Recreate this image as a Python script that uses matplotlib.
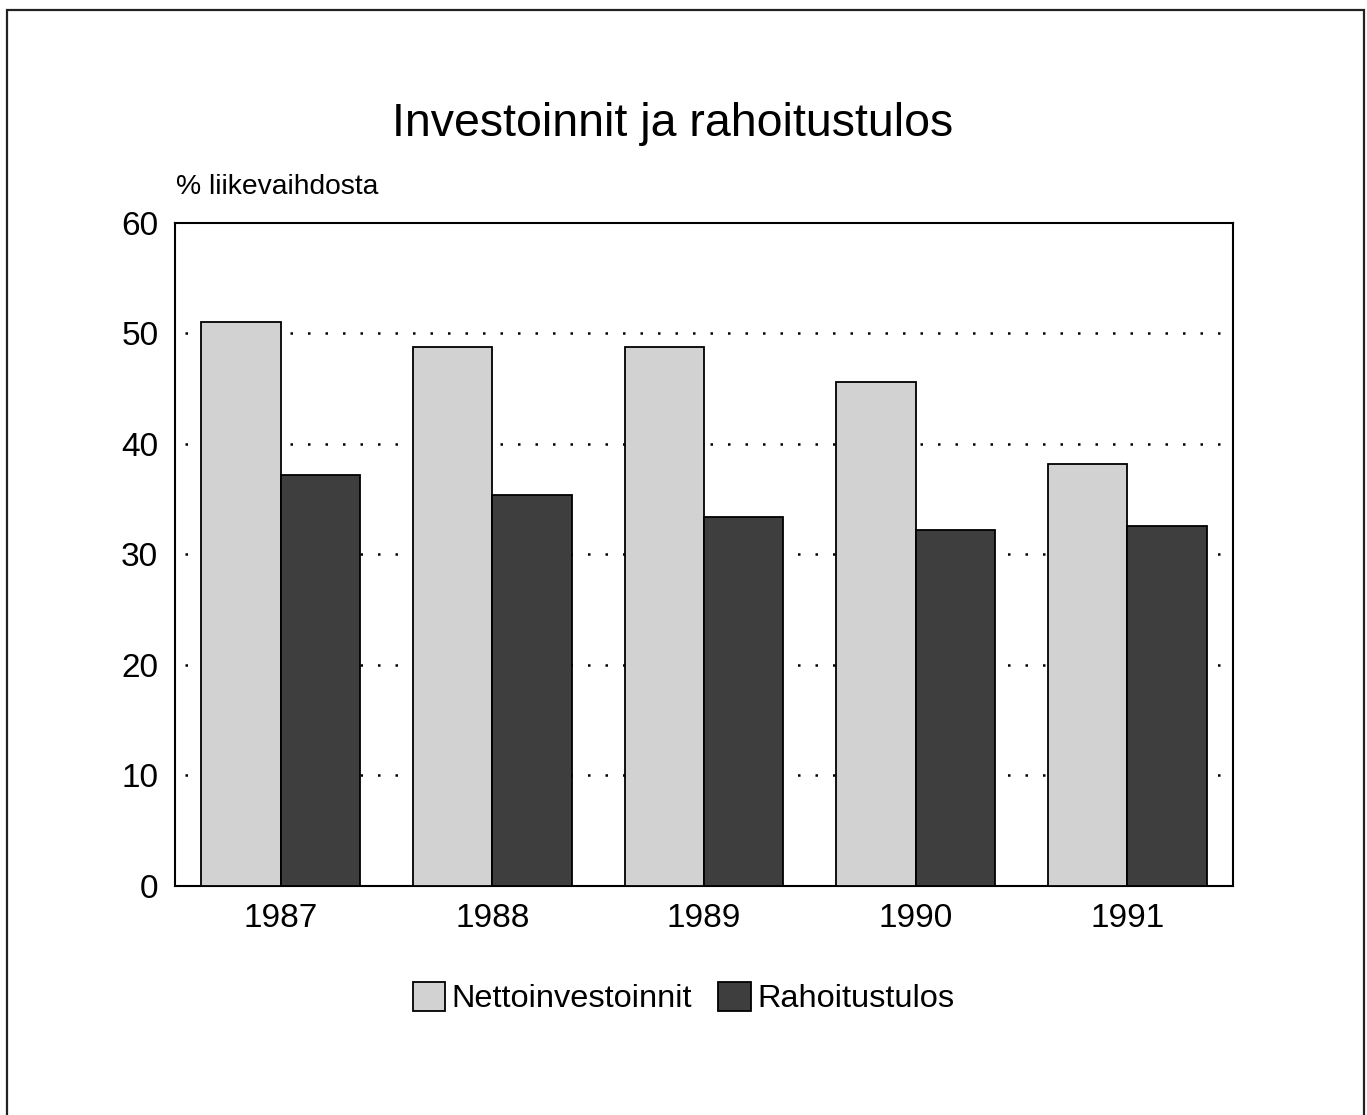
import matplotlib
matplotlib.use("Agg")
import matplotlib.pyplot as plt
from matplotlib.patches import Rectangle
import numpy as np

plt.rcParams['font.family'] = ['Liberation Sans', 'DejaVu Sans']

years = ['1987', '1988', '1989', '1990', '1991']
netto = [51.0, 48.8, 48.8, 45.6, 38.2]
rahoitus = [37.2, 35.4, 33.4, 32.2, 32.6]
series_names = ['Nettoinvestoinnit', 'Rahoitustulos']

fig = plt.figure(figsize=(13.67, 11.15), dpi=100)
ax = fig.add_axes([0.128, 0.2054, 0.774, 0.5946])

# frame round the whole page
fig.patches.append(Rectangle((0.005, -0.05), 0.9928, 1.041, transform=fig.transFigure,
                             fill=False, edgecolor='#222222', linewidth=1.6))

x = np.arange(len(years))
w = 0.375
ax.bar(x - w / 2, netto, width=w, color='#d2d2d2', edgecolor='black',
       linewidth=1.3, label=series_names[0], zorder=3)
ax.bar(x + w / 2, rahoitus, width=w, color='#3e3e3e', edgecolor='black',
       linewidth=1.3, label=series_names[1], zorder=3)

ax.set_xlim(-0.5, len(years) - 0.5)
ax.set_ylim(0, 60)
ax.set_yticks(range(0, 61, 10))
ax.set_xticks(x)
ax.set_xticklabels(years)
ax.tick_params(axis='both', length=0, labelsize=24)
ax.tick_params(axis='y', pad=12)
ax.tick_params(axis='x', pad=12)

for v in range(10, 60, 10):
    ax.axhline(v, color='black', linewidth=1.8, linestyle=(3, (1, 6)), zorder=1)

for s in ax.spines.values():
    s.set_linewidth(1.5)

fig.text(0.492, 0.889, 'Investoinnit ja rahoitustulos', ha='center', va='center',
         fontsize=33.5)
fig.text(0.129, 0.832, '% liikevaihdosta', ha='left', va='center', fontsize=20.3)

fig.legend(loc='center', bbox_to_anchor=(0.5, 0.105), ncol=2, frameon=False,
           fontsize=23.4, handlelength=1.0, handleheight=1.0, handletextpad=0.2,
           columnspacing=0.8)

fig.savefig('out.png', dpi=100)
